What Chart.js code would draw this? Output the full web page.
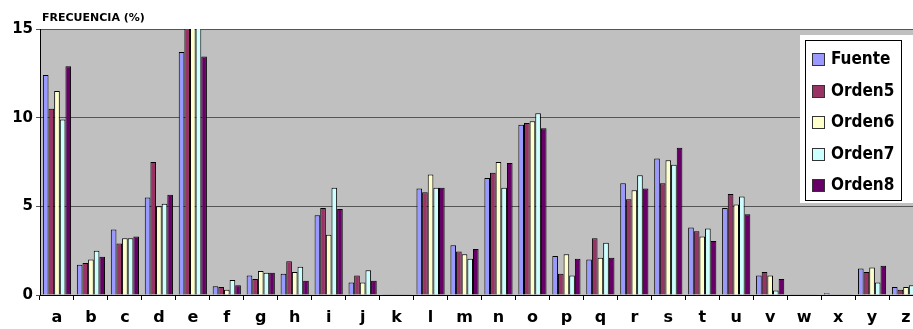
<!DOCTYPE html>
<html>
<head>
<meta charset="utf-8">
<script src="https://cdn.jsdelivr.net/npm/chart.js@4.4.0/dist/chart.umd.min.js"></script>
<style>
  html, body { margin: 0; padding: 0; background: #fff; }
  #wrap { width: 913px; height: 329px; overflow: hidden; position: relative; }
  canvas { display: block; }
</style>
</head>
<body>
<div id="wrap"><canvas id="c" width="923" height="329" style="width:923px;height:329px"></canvas></div>
<script>
const categories = ['a','b','c','d','e','f','g','h','i','j','k','l','m','n','o','p','q','r','s','t','u','v','w','x','y','z'];
const fuente = [12.4,1.7,3.7,5.5,13.7,0.5,1.1,1.2,4.5,0.7,0.02,6.0,2.8,6.6,9.6,2.2,2.0,6.3,7.7,3.8,4.9,1.1,0.02,0.1,1.5,0.45];
const orden5 = [10.5,1.8,2.9,7.5,15.5,0.45,0.9,1.9,4.9,1.1,0.02,5.8,2.45,6.9,9.7,1.2,3.2,5.4,6.3,3.6,5.7,1.3,0.02,0.02,1.3,0.3];
const orden6 = [11.5,2.0,3.2,5.0,15.5,0.3,1.35,1.3,3.4,0.7,0.02,6.8,2.3,7.5,9.8,2.3,2.1,5.9,7.6,3.3,5.1,1.1,0.02,0.02,1.55,0.45];
const orden7 = [9.9,2.5,3.2,5.15,15.5,0.85,1.25,1.6,6.05,1.4,0.02,6.05,2.05,6.05,10.25,1.1,2.95,6.75,7.35,3.75,5.55,0.25,0.02,0.02,0.7,0.55];
const orden8 = [12.9,2.15,3.3,5.65,13.45,0.55,1.25,0.8,4.85,0.8,0.02,6.05,2.6,7.45,9.4,2.05,2.1,6.0,8.3,3.05,4.55,0.9,0.02,0.02,1.65,0.6];
const seriesNames = ['Fuente','Orden5','Orden6','Orden7','Orden8'];
const seriesColors = ['#9999FF','#993366','#FFFFCC','#CCFFFF','#660066'];
const yTicks = [0,5,10,15];
const titleText = 'FRECUENCIA (%)';

const FONT = "'DejaVu Sans', Verdana, sans-serif";
const LEGEND_FONT = "'DejaVu Sans Condensed', 'DejaVu Sans', sans-serif";

const bgPlugin = {
  id: 'plotBg',
  beforeDraw(chart) {
    const a = chart.chartArea, ctx = chart.ctx;
    ctx.save();
    ctx.fillStyle = '#C0C0C0';
    ctx.fillRect(a.left, a.top, a.right - a.left, a.bottom - a.top);
    ctx.restore();
  },
  afterDraw(chart) {
    const ctx = chart.ctx;
    ctx.save();
    // title
    ctx.fillStyle = '#000';
    ctx.font = 'bold 11px ' + FONT;
    ctx.textBaseline = 'alphabetic';
    ctx.textAlign = 'left';
    ctx.fillText(titleText, 42, 21);
    // legend
    ctx.fillStyle = '#fff';
    ctx.fillRect(800, 35, 113, 168);
    ctx.strokeStyle = '#000';
    ctx.lineWidth = 1;
    ctx.strokeRect(805.5, 40.5, 96, 160);
    ctx.font = 'bold 17px ' + LEGEND_FONT;
    ctx.textBaseline = 'middle';
    chart.data.datasets.forEach((ds, i) => {
      const cy = 59 + i * 31.5;
      ctx.fillStyle = ds.backgroundColor;
      ctx.fillRect(812, Math.round(cy - 6), 12, 12);
      ctx.strokeStyle = '#333';
      ctx.strokeRect(812.5, Math.round(cy - 6) + 0.5, 12, 12);
      ctx.fillStyle = '#000';
      ctx.fillText(ds.label, 831, cy + 1);
    });
    ctx.restore();
  }
};

new Chart(document.getElementById('c'), {
  type: 'bar',
  data: {
    labels: categories,
    datasets: [fuente, orden5, orden6, orden7, orden8].map((d, i) => ({
      label: seriesNames[i],
      data: d,
      backgroundColor: seriesColors[i],
      borderColor: '#000',
      borderWidth: 1,
      categoryPercentage: 0.83,
      barPercentage: 1.0
    }))
  },
  options: {
    responsive: false,
    devicePixelRatio: 1,
    animation: false,
    layout: { padding: { top: 29, left: 0, right: 0, bottom: 0 } },
    plugins: { legend: { display: false }, tooltip: { enabled: false }, title: { display: false } },
    scales: {
      x: {
        afterFit(s) { s.height = 34; },
        grid: { drawOnChartArea: false, offset: true, tickLength: 5, color: '#000' },
        border: { color: '#000' },
        ticks: { font: { family: FONT, size: 16, weight: 'bold' }, color: '#000', padding: 8, maxRotation: 0, autoSkip: false }
      },
      y: {
        min: 0, max: 15,
        afterFit(s) { s.width = 40; },
        afterBuildTicks(s) { s.ticks = yTicks.map(v => ({ value: v })); },
        grid: { color: '#555', tickLength: 4, lineWidth: 1 },
        border: { color: '#000' },
        ticks: { font: { family: FONT, size: 15, weight: 'bold' }, color: '#000', padding: 3 }
      }
    }
  },
  plugins: [bgPlugin]
});
</script>
</body>
</html>
